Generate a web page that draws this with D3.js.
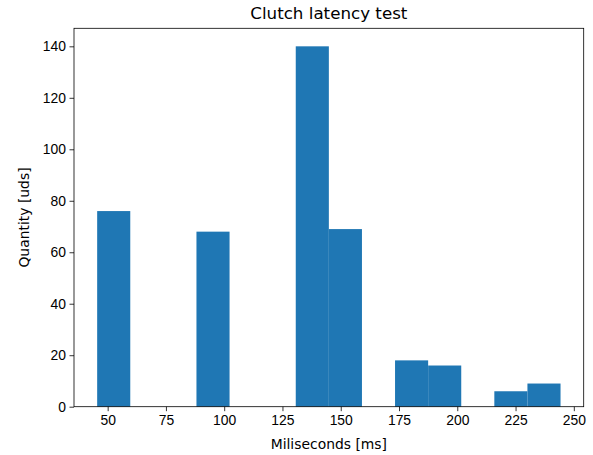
<!DOCTYPE html>
<html>
<head>
<meta charset="utf-8">
<script src="https://cdn.jsdelivr.net/npm/d3@7"></script>
<style>
  body { margin: 0; background: #fff; }
  svg { font-family: "DejaVu Sans", sans-serif; }
  .axis text { font-size: 13.9px; fill: #000; }
  .axis path, .axis line { stroke: #000; stroke-width: 0.8px; }
</style>
</head>
<body>
<div id="chart"></div>
<script>
// histogram bins (ms)
var binEdges = [45.5, 59.7, 73.9, 88.1, 102.3, 116.5, 130.7, 144.9, 159.1, 173.3, 187.5, 201.7, 215.9, 230.1, 244.3];
var counts = [76, 0, 0, 68, 0, 0, 140, 69, 0, 18, 16, 0, 6, 9];
var xTicks = [50, 75, 100, 125, 150, 175, 200, 225, 250];
var yTicks = [0, 20, 40, 60, 80, 100, 120, 140];

var width = 593,
height = 455;

var margin = {left: 74, right: 593 - 583.7, top: 28.3, bottom: 455 - 406.7};

var svg = d3.select("#chart")
.append("svg")
.attr("width", width)
.attr("height", height);

var bins = counts.map(function(c, i) {
  return {x0: binEdges[i], x1: binEdges[i + 1], count: c};
});

// matplotlib style 5% margin on x, 0 sticky at bottom on y
var lo = d3.min(binEdges), hi = d3.max(binEdges), span = hi - lo;
var xScale = d3.scaleLinear()
.domain([lo - 0.05 * span, hi + 0.05 * span])
.range([margin.left, width - margin.right]);

var yScale = d3.scaleLinear()
.domain([0, d3.max(counts) * 1.05])
.range([height - margin.bottom, margin.top]);

//Bars
svg.append("g")
.selectAll("rect")
.data(bins.filter(function(d) { return d.count > 0; }))
.enter()
.append("rect")
.attr("x", function(d) { return xScale(d.x0); })
.attr("width", function(d) { return xScale(d.x1) - xScale(d.x0); })
.attr("y", function(d) { return yScale(d.count); })
.attr("height", function(d) { return yScale(0) - yScale(d.count); })
.attr("fill", "#1f77b4");

//Axes
var xAxis = d3.axisBottom(xScale)
.tickValues(xTicks)
.tickSizeInner(4.5)
.tickSizeOuter(0)
.tickPadding(3.5);

var yAxis = d3.axisLeft(yScale)
.tickValues(yTicks)
.tickSizeInner(4.5)
.tickSizeOuter(0)
.tickPadding(3.5);

svg.append("g")
.attr("class", "axis")
.attr("transform", "translate(0," + (height - margin.bottom) + ")")
.call(xAxis)
.call(function(g) { g.select(".domain").remove(); });

svg.append("g")
.attr("class", "axis")
.attr("transform", "translate(" + margin.left + ",0)")
.call(yAxis)
.call(function(g) { g.select(".domain").remove(); });

//Frame
svg.append("rect")
.attr("x", margin.left)
.attr("y", margin.top)
.attr("width", width - margin.right - margin.left)
.attr("height", height - margin.bottom - margin.top)
.attr("fill", "none")
.attr("stroke", "#000")
.attr("stroke-width", 0.8);

//Labels
svg.append("text")
.attr("x", (margin.left + width - margin.right) / 2)
.attr("y", 19)
.attr("text-anchor", "middle")
.style("font-size", "16.7px")
.text("Clutch latency test");

svg.append("text")
.attr("x", (margin.left + width - margin.right) / 2)
.attr("y", 449)
.attr("text-anchor", "middle")
.style("font-size", "13.9px")
.text("Miliseconds [ms]");

svg.append("text")
.attr("transform", "translate(28.5," + ((margin.top + height - margin.bottom) / 2) + ") rotate(-90)")
.attr("text-anchor", "middle")
.style("font-size", "13.9px")
.text("Quantity [uds]");
</script>
</body>
</html>
